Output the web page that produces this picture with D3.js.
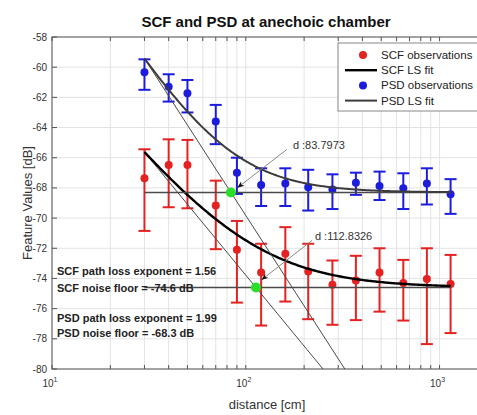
<!DOCTYPE html>
<html>
<head>
<meta charset="utf-8">
<script src="https://cdn.jsdelivr.net/npm/d3@7"></script>
<style>
  body { margin: 0; background: #fff; }
  svg { display: block; font-family: "Liberation Sans", Arial, sans-serif; }
</style>
</head>
<body>
<div id="chart"></div>
<script>
// distances of the measurements [cm]
const distances = [30, 40, 50, 70, 90, 120, 160, 210, 280, 370, 490, 650, 860, 1140];

// SCF observations: mean, upper and lower end of the error bar [dB]
const scfMean = [-67.36, -66.48, -66.48, -69.17, -72.1, -73.6, -72.37, -73.54, -74.42, -74.14, -73.6, -74.3, -74.03, -74.36];
const scfHigh = [-65.44, -64.78, -64.82, -67.52, -70.19, -71.7, -70.6, -71.7, -72.81, -72.5, -72.0, -72.77, -72.0, -72.44];
const scfLow  = [-70.85, -69.28, -69.35, -72.06, -75.6, -77.12, -75.53, -76.7, -77.07, -76.76, -76.2, -76.79, -78.35, -77.62];

// PSD observations
const psdMean = [-60.34, -61.29, -61.73, -63.6, -66.99, -67.8, -67.7, -67.96, -68.1, -67.65, -67.87, -68.02, -67.7, -68.42];
const psdHigh = [-59.48, -60.47, -60.85, -62.5, -66.0, -66.7, -66.7, -66.8, -67.1, -66.99, -66.92, -67.03, -66.7, -67.42];
const psdLow  = [-61.5, -62.28, -63.0, -65.1, -68.4, -69.2, -69.2, -69.5, -69.4, -68.46, -68.8, -69.4, -69.1, -69.72];

// LS fit results
const scfExponent = 1.56, scfFloor = -74.6, scfCross = 112.8326;
const psdExponent = 1.99, psdFloor = -68.3, psdCross = 83.7973;

const yTicks = [-58, -60, -62, -64, -66, -68, -70, -72, -74, -76, -78, -80];
const xTickLabels = [10, 100, 1000];

const W = 477, H = 415;
const margin = {top: 37, left: 52};
const width = 436, height = 332;

const svg = d3.select('#chart').append('svg')
    .attr('width', W)
    .attr('height', H);

const x = d3.scaleLog().domain([10, Math.pow(10, 3.25)]).range([0, width]);
const y = d3.scaleLinear().domain([-80, -58]).range([height, 0]);

const g = svg.append('g')
    .attr('transform', `translate(${margin.left},${margin.top})`);

svg.append('defs').append('clipPath').attr('id', 'plot-clip')
  .append('rect').attr('width', width).attr('height', height);

// grid
g.append('g').selectAll('line')
  .data(x.ticks())
  .join('line')
    .attr('x1', d => x(d)).attr('x2', d => x(d))
    .attr('y1', 0).attr('y2', height)
    .attr('stroke', '#e3e3e3');
g.append('g').selectAll('line')
  .data(yTicks)
  .join('line')
    .attr('x1', 0).attr('x2', width)
    .attr('y1', d => y(d)).attr('y2', d => y(d))
    .attr('stroke', '#e3e3e3');

// axis box + inward ticks
g.append('rect')
    .attr('width', width).attr('height', height)
    .attr('fill', 'none').attr('stroke', '#555');
const tickG = g.append('g').attr('stroke', '#555');
x.ticks().forEach(d => {
  tickG.append('line').attr('x1', x(d)).attr('x2', x(d)).attr('y1', height).attr('y2', height - 4);
  tickG.append('line').attr('x1', x(d)).attr('x2', x(d)).attr('y1', 0).attr('y2', 4);
});
yTicks.forEach(d => {
  tickG.append('line').attr('x1', 0).attr('x2', 5).attr('y1', y(d)).attr('y2', y(d));
});

// tick labels
g.append('g').selectAll('text')
  .data(yTicks)
  .join('text')
    .attr('x', -5).attr('y', d => y(d) + 3.5)
    .attr('text-anchor', 'end')
    .attr('font-size', 10).attr('fill', '#333')
    .text(d => d);
const xl = g.append('g').selectAll('text')
  .data(xTickLabels)
  .join('text')
    .attr('x', d => x(d) - 2).attr('y', height + 18)
    .attr('text-anchor', 'middle')
    .attr('font-size', 10).attr('fill', '#333');
xl.append('tspan').text('10');
xl.append('tspan').attr('dy', -5).attr('font-size', 7).text(d => Math.round(Math.log10(d)));

// axis titles
svg.append('text')
    .attr('x', 266).attr('y', 26.5)
    .attr('text-anchor', 'middle')
    .attr('font-size', 15).attr('font-weight', 'bold')
    .attr('fill', '#111')
    .text('SCF and PSD at anechoic chamber');
svg.append('text')
    .attr('x', 267).attr('y', 409)
    .attr('text-anchor', 'middle')
    .attr('font-size', 13).attr('fill', '#333')
    .text('distance [cm]');
svg.append('text')
    .attr('transform', 'translate(32,203) rotate(-90)')
    .attr('text-anchor', 'middle')
    .attr('font-size', 13).attr('fill', '#333')
    .text('Feature Values [dB]');

const plot = g.append('g').attr('clip-path', 'url(#plot-clip)');

// error bars
function errorBars(mean, low, high, color) {
  const eg = plot.append('g').attr('stroke', color).attr('stroke-width', 2);
  distances.forEach((d, i) => {
    const cx = x(d);
    eg.append('line').attr('x1', cx).attr('x2', cx).attr('y1', y(high[i])).attr('y2', y(low[i]));
    eg.append('line').attr('x1', cx - 6).attr('x2', cx + 6).attr('y1', y(high[i])).attr('y2', y(high[i]));
    eg.append('line').attr('x1', cx - 6).attr('x2', cx + 6).attr('y1', y(low[i])).attr('y2', y(low[i]));
  });
  plot.append('g').selectAll('circle')
    .data(distances)
    .join('circle')
      .attr('cx', d => x(d))
      .attr('cy', (d, i) => y(mean[i]))
      .attr('r', 4)
      .attr('fill', color);
}
errorBars(scfMean, scfLow, scfHigh, '#e42222');
errorBars(psdMean, psdLow, psdHigh, '#1c1cdc');

// LS fit: path loss line, noise floor and combined curve
const d0 = distances[0], dEnd = distances[distances.length - 1];
const line = d3.line().x(p => x(p[0])).y(p => y(p[1]));
function drawFit(n, floor, cross, curveColor, curveWidth) {
  const pl = d => floor - 10 * n * Math.log10(d / cross);
  // straight path loss line
  plot.append('path')
      .attr('d', line([[d0, pl(d0)], [2000, pl(2000)]]))
      .attr('fill', 'none').attr('stroke', '#4a4a4a').attr('stroke-width', 1);
  // noise floor
  plot.append('path')
      .attr('d', line([[d0, floor], [dEnd, floor]]))
      .attr('fill', 'none').attr('stroke', '#4a4a4a').attr('stroke-width', 1.6);
  // combined model, anchored at the first distance
  const pn = Math.pow(10, floor / 10);
  const p0 = Math.pow(10, pl(d0) / 10) - pn;
  const pts = d3.range(0, 201).map(k => {
    const d = d0 * Math.pow(dEnd / d0, k / 200);
    return [d, 10 * Math.log10(p0 * Math.pow(d / d0, -n) + pn)];
  });
  plot.append('path')
      .attr('d', line(pts))
      .attr('fill', 'none').attr('stroke', curveColor).attr('stroke-width', curveWidth);
}
drawFit(scfExponent, scfFloor, scfCross, '#000', 2.4);
drawFit(psdExponent, psdFloor, psdCross, '#3c3c3c', 2);

// intersection points + annotations
const marks = [
  {d: psdCross, v: psdFloor, label: 'd :83.7973', tip: [7, -5], from: [56, -43], text: [62, -43]},
  {d: scfCross, v: scfFloor, label: 'd :112.8326', tip: [6, -8], from: [56, -47], text: [59, -48]}
];
svg.append('defs').append('marker')
    .attr('id', 'arrow').attr('viewBox', '0 0 10 10')
    .attr('refX', 9).attr('refY', 5)
    .attr('markerWidth', 7).attr('markerHeight', 7)
    .attr('orient', 'auto')
  .append('path').attr('d', 'M0,1 L10,5 L0,9 L3,5 Z').attr('fill', '#111');
marks.forEach(m => {
  const cx = x(m.d), cy = y(m.v);
  g.append('circle').attr('cx', cx).attr('cy', cy).attr('r', 5).attr('fill', '#2ade2a');
  g.append('line')
      .attr('x1', cx + m.from[0]).attr('y1', cy + m.from[1])
      .attr('x2', cx + m.tip[0]).attr('y2', cy + m.tip[1])
      .attr('stroke', '#888').attr('stroke-width', 1)
      .attr('marker-end', 'url(#arrow)');
  g.append('text')
      .attr('x', cx + m.text[0]).attr('y', cy + m.text[1])
      .attr('font-size', 11).attr('fill', '#333')
      .text(m.label);
});

// fit summary text
const notes = [
  {t: `SCF path loss exponent = ${scfExponent}`, v: -73.8},
  {t: `SCF noise floor = ${scfFloor} dB`, v: -74.9},
  {t: `PSD path loss exponent = ${psdExponent}`, v: -76.9},
  {t: `PSD noise floor = ${psdFloor} dB`, v: -77.9}
];
g.append('g').selectAll('text')
  .data(notes)
  .join('text')
    .attr('x', 5).attr('y', d => y(d.v))
    .attr('font-size', 11).attr('font-weight', 'bold').attr('fill', '#222')
    .text(d => d.t);

// legend
const leg = svg.append('g').attr('transform', 'translate(338,43)');
leg.append('rect').attr('width', 146).attr('height', 68)
    .attr('fill', '#fff').attr('stroke', '#888');
const legendItems = [
  {label: 'SCF observations', type: 'dot', color: '#e42222'},
  {label: 'SCF LS fit', type: 'line', color: '#000', w: 2.4},
  {label: 'PSD observations', type: 'dot', color: '#1c1cdc'},
  {label: 'PSD LS fit', type: 'line', color: '#3c3c3c', w: 2}
];
legendItems.forEach((it, i) => {
  const ly = 12 + i * 15.2;
  if (it.type === 'dot') {
    leg.append('circle').attr('cx', 25).attr('cy', ly).attr('r', 4).attr('fill', it.color);
  } else {
    leg.append('line').attr('x1', 7).attr('x2', 39).attr('y1', ly).attr('y2', ly)
        .attr('stroke', it.color).attr('stroke-width', it.w);
  }
  leg.append('text').attr('x', 43).attr('y', ly + 4)
      .attr('font-size', 11.5).attr('fill', '#222')
      .text(it.label);
});
</script>
</body>
</html>
